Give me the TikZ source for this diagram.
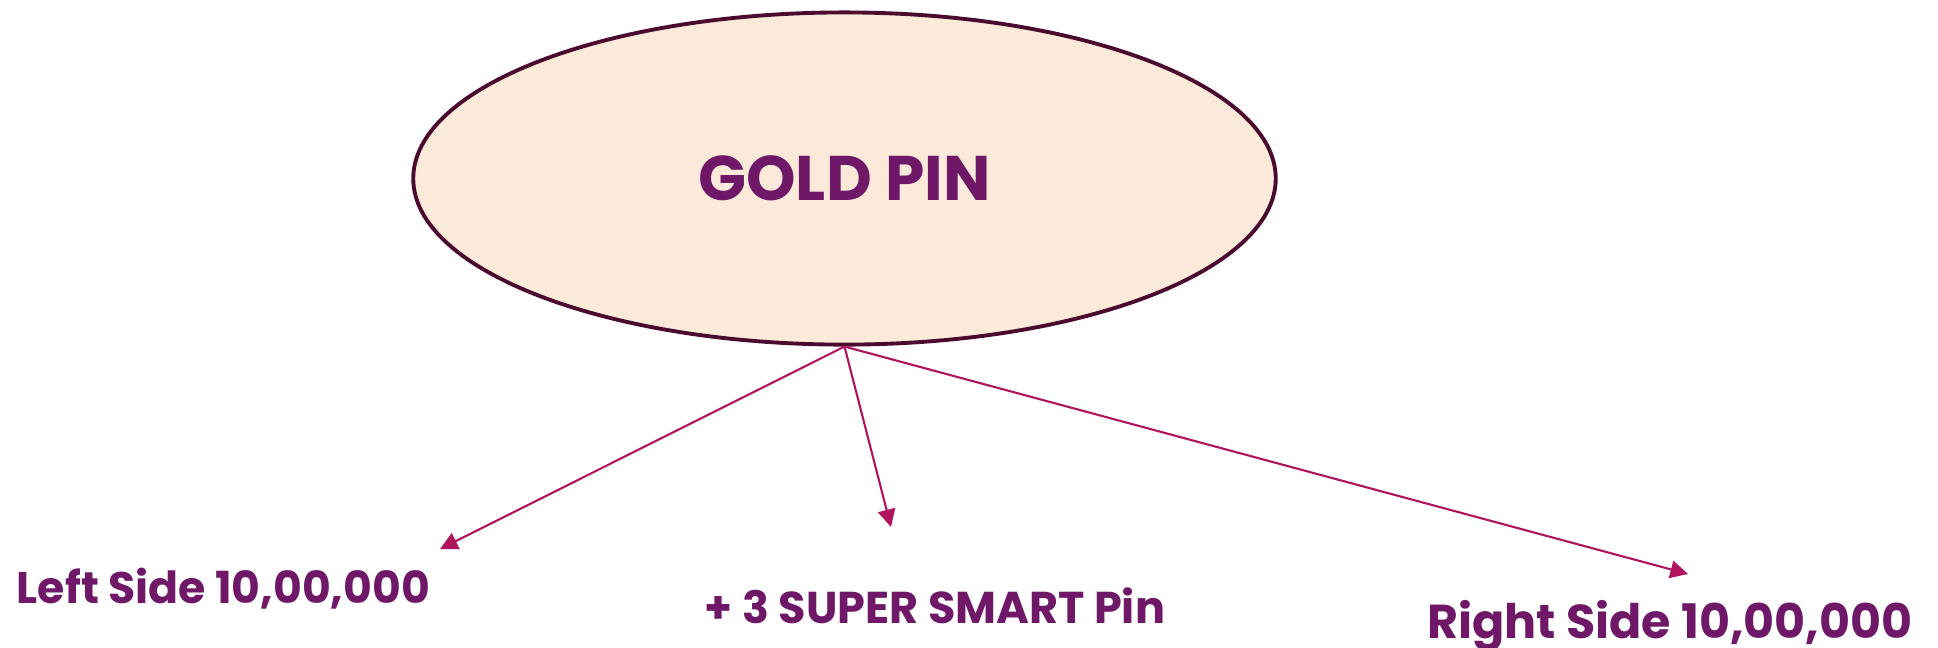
\documentclass[tikz,border=0pt]{standalone}
\usepackage{fontspec}
\setmainfont{Poppins}
\usetikzlibrary{shapes.geometric,arrows.meta}
\definecolor{ellfill}{HTML}{FBE9D9}
\definecolor{elldraw}{HTML}{4A0B2E}
\definecolor{txt}{HTML}{701868}
\definecolor{arrc}{HTML}{B0145E}
\tikzset{
  pinell/.style={ellipse, draw=elldraw, fill=ellfill, line width=1.1pt, inner sep=0pt,
    minimum width=8.62cm, minimum height=3.32cm, text=txt, font=\fontsize{18.5}{20}\selectfont\bfseries},
  lbl/.style={anchor=base, inner sep=0pt, text=txt, font=\fontsize{14}{16}\selectfont\bfseries},
  arr/.style={draw=arrc, line width=0.6pt, -{Triangle[length=5pt,width=5pt]}}
}
\begin{document}
\begin{tikzpicture}[x=0.01cm,y=-0.01cm]
\useasboundingbox (0,0) rectangle (1938,647);
\node[pinell] (e) at (844.5,178.5) {\resizebox{2.92cm}{!}{GOLD PIN}};
\node[lbl] (l) at (223.5,603) {\resizebox{4.13cm}{!}{Left Side 10,00,000}};
\node[lbl] (m) at (935,623) {\resizebox{4.60cm}{!}{+ 3 SUPER SMART Pin}};
\node[lbl] (r) at (1670,638) {\resizebox{4.85cm}{!}{Right Side 10,00,000}};
\coordinate (lt) at (440,549);
\coordinate (mt) at (891,527);
\coordinate (rt) at (1688,574);
\draw[arr] (e.south) -- (lt);
\draw[arr] (e.south) -- (mt);
\draw[arr] (e.south) -- (rt);
\end{tikzpicture}
\end{document}
